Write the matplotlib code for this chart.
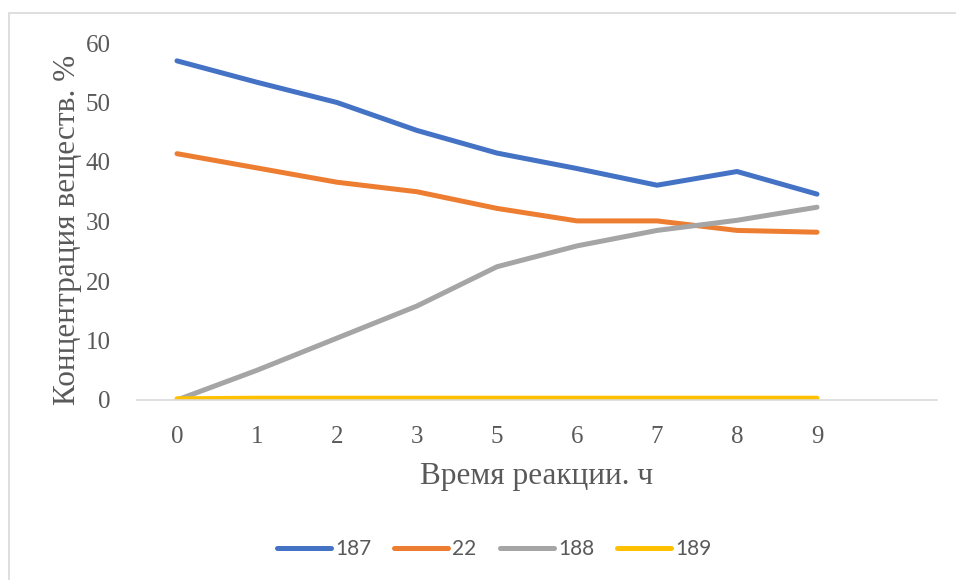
import matplotlib.pyplot as plt
from matplotlib.patches import Rectangle

hours = ['0', '1', '2', '3', '5', '6', '7', '8', '9']
s187 = [57.0, 53.4, 50.0, 45.3, 41.5, 38.9, 36.1, 38.4, 34.6]
s22 = [41.4, 39.0, 36.6, 35.0, 32.2, 30.1, 30.1, 28.5, 28.2]
s188 = [0.0, 5.0, 10.4, 15.8, 22.4, 25.9, 28.5, 30.2, 32.4]
s189 = [0.2, 0.3, 0.3, 0.3, 0.3, 0.3, 0.3, 0.3, 0.3]

series = [('187', s187, '#4472c4'), ('22', s22, '#ed7d31'),
          ('188', s188, '#a5a5a5'), ('189', s189, '#ffc000')]

W, H = 956, 580
fig = plt.figure(figsize=(W / 100, H / 100), dpi=100)
ax = fig.add_axes([137 / W, 1 - 400 / H, 800 / W, 357 / H])

pos = list(range(len(hours)))
for name, vals, col in series:
    ax.plot(pos, vals, color=col, lw=3.6, solid_capstyle='round',
            solid_joinstyle='round', label=name)

ax.set_xlim(-0.5, 9.5)
ax.set_ylim(0, 60)
ax.set_xticks(pos)
ax.set_xticklabels(hours)
ax.set_yticks(range(0, 61, 10))
for sp in ['top', 'right', 'left']:
    ax.spines[sp].set_visible(False)
ax.spines['bottom'].set_color('#d9d9d9')
ax.spines['bottom'].set_linewidth(1.2)
ax.tick_params(length=0, labelsize=18, labelcolor='#595959')
ax.tick_params(axis='x', pad=19)
ax.tick_params(axis='y', pad=19)
for t in ax.get_xticklabels() + ax.get_yticklabels():
    t.set_family('Liberation Serif')

ax.set_xlabel('Время реакции. ч', family='Liberation Serif', fontsize=22.5,
              color='#595959', labelpad=10)
fig.text(68 / W, 1 - 230 / H, 'Концентрация веществ. %', family='Liberation Serif',
         fontsize=22.5, color='#595959', rotation=90, ha='center', va='center')

leg = fig.legend(loc='center', bbox_to_anchor=(494 / W, 1 - 549 / H), ncol=4,
                 frameon=False, handlelength=2.6, columnspacing=1.1,
                 handletextpad=0.2, prop={'family': 'Lato', 'size': 15})
for t in leg.get_texts():
    t.set_color('#595959')

# chart frame
fig.patches.append(Rectangle((9 / W, -0.1), 1.0, 1 - 13 / H + 0.1,
                             transform=fig.transFigure, fill=False,
                             edgecolor='#d9d9d9', lw=1.2))

fig.savefig('out.png', dpi=100)
